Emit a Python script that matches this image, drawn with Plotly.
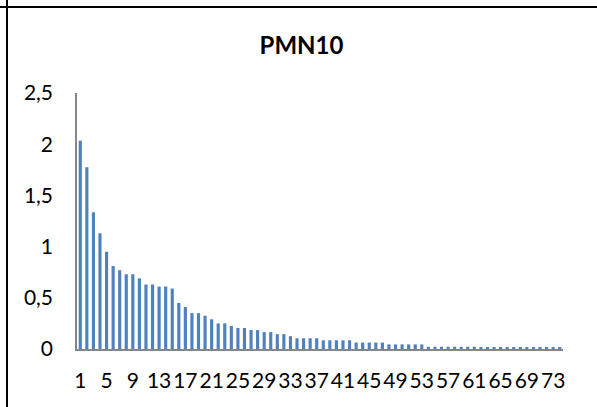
import plotly.graph_objects as go

categories = list(range(1, 75))
values = [2.035, 1.775, 1.335, 1.13, 0.95, 0.81, 0.77, 0.73, 0.73, 0.69,
          0.63, 0.63, 0.61, 0.61, 0.59, 0.45, 0.41, 0.35, 0.35, 0.325,
          0.29, 0.25, 0.25, 0.225, 0.205, 0.205, 0.185, 0.185, 0.165, 0.165,
          0.145, 0.145, 0.125,
          0.105, 0.105, 0.105, 0.105,
          0.085, 0.085, 0.085, 0.085, 0.085,
          0.063, 0.063, 0.063, 0.063, 0.063,
          0.045, 0.045, 0.045, 0.045, 0.045, 0.045,
          0.022, 0.022, 0.022, 0.022, 0.022, 0.022, 0.022, 0.022,
          0.01, 0.01, 0.01, 0.01, 0.01, 0.01, 0.01, 0.01, 0.01, 0.01, 0.01, 0.01, 0.01]
x_tickvals = list(range(1, 75, 4))
y_tickvals = [0, 0.5, 1, 1.5, 2, 2.5]
y_ticktext = ["0", "0,5", "1", "1,5", "2", "2,5"]

fig = go.Figure(go.Bar(x=categories, y=values, marker=dict(color="#4F81BD", line=dict(width=0))))

fig.update_layout(
    width=597, height=407,
    margin=dict(l=77, r=34, t=93, b=58),
    paper_bgcolor="white", plot_bgcolor="white",
    bargap=0.52,
    showlegend=False,
    font=dict(family="Lato", size=21, color="#000000"),
    title=dict(text="<b>PMN10</b>", x=0.505, xanchor="center", y=0.888, yanchor="middle",
               font=dict(family="Lato", size=24, color="#000000")),
)
fig.update_xaxes(range=[0.5, 74.5], tickmode="array", tickvals=x_tickvals,
                 ticktext=[str(v) for v in x_tickvals], tickangle=0,
                 showline=True, linecolor="#868686", linewidth=2, showgrid=False,
                 zeroline=False, ticks="", ticklabelstandoff=12)
fig.update_yaxes(range=[0, 2.5], tickmode="array", tickvals=y_tickvals, ticktext=y_ticktext,
                 showline=True, linecolor="#868686", linewidth=1.5, showgrid=False,
                 zeroline=False, ticks="", ticklabelstandoff=18)

# chart frame (left and top edges visible)
fig.add_shape(type="line", xref="paper", yref="paper", x0=-70/486, x1=-70/486, y0=-1, y1=2,
              line=dict(color="#000000", width=2))
fig.add_shape(type="line", xref="paper", yref="paper", x0=-1, x1=2, y0=1 + 86/256, y1=1 + 86/256,
              line=dict(color="#000000", width=2))

fig.write_html("out.html")
